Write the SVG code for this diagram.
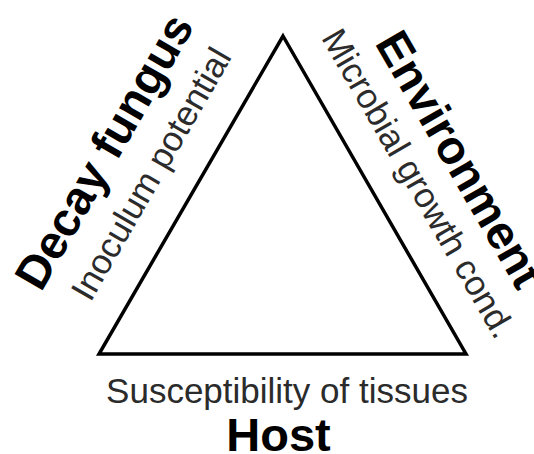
<svg xmlns="http://www.w3.org/2000/svg" width="534" height="454" viewBox="0 0 534 454">
  <style>
    .title { font-family: "Liberation Sans", Arial, sans-serif; font-weight: bold; font-size: 47px; fill: #000; }
    .sub { font-family: "Liberation Sans", Arial, sans-serif; font-size: 35px; fill: #2b2b2b; }
    .edge { fill: none; stroke: #000; stroke-width: 3.5; stroke-linejoin: miter; }
  </style>
  <rect width="534" height="454" fill="#fff"/>

  <!-- disease triangle -->
  <g id="connectors">
    <polygon class="edge" points="283,36 466,354 99,354"/>
  </g>

  <!-- left side: pathogen -->
  <g id="node-fungus">
    <text class="title" transform="translate(41,293) rotate(-60)">Decay fungus</text>
    <text class="sub" transform="translate(90.4,302.9) rotate(-60)">Inoculum potential</text>
  </g>

  <!-- right side: environment -->
  <g id="node-environment">
    <text class="title" transform="translate(374.3,43) rotate(60)">Environment</text>
    <text class="sub" transform="translate(320.7,37.7) rotate(60)">Microbial growth cond.</text>
  </g>

  <!-- base: host -->
  <g id="node-host">
    <text class="sub" x="287" y="403" text-anchor="middle" font-size="35.5">Susceptibility of tissues</text>
    <text class="title" x="278.5" y="451" text-anchor="middle" font-size="46.5">Host</text>
  </g>
</svg>
